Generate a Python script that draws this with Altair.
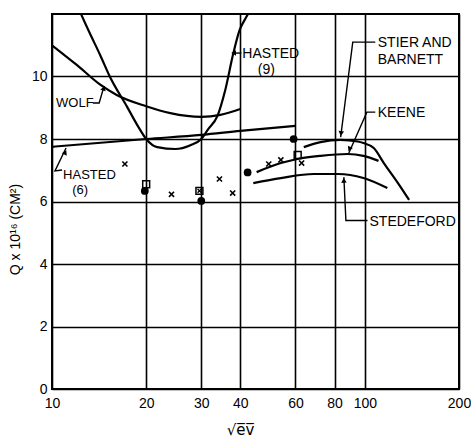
import altair as alt
import pandas as pd

# ---- curves: sqrt(eV) vs Q x 10^16 (cm^2) ----
wolf_x = [10.0, 12.0, 14.3, 16.1, 20.0, 23.9, 30.0, 34.5, 40.0]
wolf_y = [11.0, 10.37, 9.73, 9.41, 9.05, 8.83, 8.71, 8.77, 8.96]

hasted6_x = [10.0, 20.0, 30.0, 40.0, 60.0]
hasted6_y = [7.75, 8.0, 8.13, 8.26, 8.42]

hasted9_x = [12.0, 13.2, 14.25, 15.3, 17.4, 18.9, 20.0, 21.7, 24.8, 27.7, 30.0,
             31.5, 33.8, 35.8, 38.0, 39.8, 41.5, 43.2]
hasted9_y = [12.3, 11.39, 10.69, 10.0, 9.02, 8.38, 8.0, 7.74, 7.68, 7.8, 8.0,
             8.3, 8.74, 9.57, 10.75, 11.49, 11.85, 12.15]

stier_x = [63.8, 72.2, 83.6, 94.9, 99.0, 106.8, 115.0, 127.0, 138.5]
stier_y = [7.74, 7.9, 7.97, 7.92, 7.87, 7.71, 7.23, 6.62, 6.05]

keene_x = [45.1, 53.9, 60.9, 72.2, 88.2, 99.0, 110.6]
keene_y = [6.94, 7.23, 7.36, 7.46, 7.52, 7.46, 7.3]

stedeford_x = [44.0, 53.9, 68.6, 82.1, 99.0, 118.0]
stedeford_y = [6.59, 6.75, 6.88, 6.88, 6.75, 6.43]

# ---- measured points ----
dots_x = [19.8, 30.0, 42.2, 59.2]
dots_y = [6.34, 6.02, 6.93, 8.0]

squares_x = [20.0, 29.6, 61.0]
squares_y = [6.55, 6.34, 7.49]

crosses_x = [17.1, 24.1, 34.3, 37.8, 49.3, 53.9, 62.8]
crosses_y = [7.2, 6.23, 6.72, 6.27, 7.2, 7.33, 7.23]

# ---- axes ----
x_ticks = [10, 20, 30, 40, 60, 80, 100, 200]
y_ticks = [0, 2, 4, 6, 8, 10]

# ---- curve labels and leader lines ----
label_text = ["WOLF", "HASTED", "(6)", "HASTED", "(9)", "STIER AND", "BARNETT",
              "KEENE", "STEDEFORD"]
label_x = [10.3, 10.85, 11.6, 40.6, 45.5, 110.0, 110.0, 110.0, 103.5]
label_y = [9.15, 6.86, 6.36, 10.72, 10.2, 11.07, 10.53, 8.83, 5.36]
label_size = [13, 13, 13, 14, 14, 14, 14, 14, 14]

leader_id = ["wolf"] * 3 + ["h6"] * 3 + ["h9"] * 2 + ["stier"] * 3 + ["keene"] * 3 + ["sted"] * 3
leader_x = [13.5, 14.15, 14.68,
            10.77, 10.22, 11.09,
            38.0, 40.3,
            108.0, 91.5, 83.7,
            108.0, 101.5, 88.9,
            102.0, 87.0, 85.7]
leader_y = [9.15, 9.15, 9.70,
            7.01, 6.98, 7.71,
            10.75, 10.75,
            11.1, 11.1, 8.06,
            8.86, 8.86, 7.55,
            5.39, 5.39, 6.78]
leader_order = [0, 1, 2, 0, 1, 2, 0, 1, 0, 1, 2, 0, 1, 2, 0, 1, 2]

arrow_x = [14.6, 11.0, 38.3, 84.0, 89.5, 85.7]
arrow_y = [9.60, 7.55, 10.75, 8.2, 7.7, 6.65]
arrow_angle = [16, 26, 270, 187, 204, 357]

FONT = "Liberation Sans"

curves = pd.concat([
    pd.DataFrame({"x": wolf_x, "y": wolf_y, "curve": "Wolf"}),
    pd.DataFrame({"x": hasted6_x, "y": hasted6_y, "curve": "Hasted (6)"}),
    pd.DataFrame({"x": hasted9_x, "y": hasted9_y, "curve": "Hasted (9)"}),
    pd.DataFrame({"x": stier_x, "y": stier_y, "curve": "Stier and Barnett"}),
    pd.DataFrame({"x": keene_x, "y": keene_y, "curve": "Keene"}),
    pd.DataFrame({"x": stedeford_x, "y": stedeford_y, "curve": "Stedeford"}),
], ignore_index=True)

xscale = alt.Scale(type="log", domain=[10, 200], nice=False)
yscale = alt.Scale(domain=[0, 12], nice=False)

x_axis = alt.Axis(values=x_ticks, format="d", grid=True, ticks=False, domain=False,
                  labelFont=FONT, labelFontSize=14, labelColor="black", labelPadding=7,
                  labelFlush=False, labelOverlap=False,
                  gridColor="black", gridWidth=1.6, gridOpacity=1,
                  title="√e̅v̅", titleFont="DejaVu Sans", titleFontSize=15,
                  titleFontWeight="normal", titleColor="black",
                  titleX=188, titleY=40, titleBaseline="middle")
y_axis = alt.Axis(values=y_ticks, grid=True, ticks=False, domain=False,
                  labelFont=FONT, labelFontSize=14, labelColor="black", labelPadding=5,
                  labelFlush=False,
                  gridColor="black", gridWidth=1.6, gridOpacity=1,
                  title="Q x 10¹⁶ (CM²)", titleFont=FONT, titleFontSize=14,
                  titleFontWeight="normal", titleColor="black",
                  titleX=-30, titleY=215, titleBaseline="bottom")

X = alt.X("x:Q", scale=xscale, axis=x_axis)
Y = alt.Y("y:Q", scale=yscale, axis=y_axis)

lines = alt.Chart(curves).mark_line(
    color="black", strokeWidth=2.2, interpolate="monotone", clip=True
).encode(x=X, y=Y, detail="curve:N")

dots = alt.Chart(pd.DataFrame({"x": dots_x, "y": dots_y})).mark_point(
    shape="circle", filled=True, color="black", size=60, opacity=1
).encode(x="x:Q", y="y:Q")

squares = alt.Chart(pd.DataFrame({"x": squares_x, "y": squares_y})).mark_point(
    shape="square", filled=False, color="black", size=48, strokeWidth=1.5, opacity=1
).encode(x="x:Q", y="y:Q")

boxed = alt.Chart(pd.DataFrame({"x": squares_x[1:2], "y": squares_y[1:2]})).mark_point(
    shape="M-1,-1L1,1M-1,1L1,-1", filled=False, color="black", size=14, strokeWidth=1.3, opacity=1
).encode(x="x:Q", y="y:Q")

crosses = alt.Chart(pd.DataFrame({"x": crosses_x, "y": crosses_y})).mark_point(
    shape="M-1,-1L1,1M-1,1L1,-1", filled=False, color="black", size=26, strokeWidth=1.6, opacity=1
).encode(x="x:Q", y="y:Q")

leaders = alt.Chart(pd.DataFrame({"x": leader_x, "y": leader_y, "id": leader_id,
                                  "o": leader_order})).mark_line(
    color="black", strokeWidth=1.4
).encode(x="x:Q", y="y:Q", detail="id:N", order="o:Q")

arrows = alt.Chart(pd.DataFrame({"x": arrow_x, "y": arrow_y, "a": arrow_angle})).mark_point(
    shape="triangle", filled=True, color="black", size=30, opacity=1
).encode(x="x:Q", y="y:Q", angle=alt.Angle("a:Q", scale=None))

labels = alt.Chart(pd.DataFrame({"x": label_x, "y": label_y, "t": label_text,
                                 "s": label_size})).mark_text(
    font=FONT, color="black", align="left", baseline="middle"
).encode(x="x:Q", y="y:Q", text="t:N", size=alt.Size("s:Q", scale=None))

chart = alt.layer(lines, leaders, arrows, dots, squares, boxed, crosses, labels).properties(
    width=407, height=375,
    autosize=alt.AutoSizeParams(type="none"),
    padding={"left": 52, "top": 14, "right": 12, "bottom": 50},
    background="white",
).configure_view(stroke="black", strokeWidth=2)

chart.save("out.html", embed_options={"renderer": "svg", "actions": False})
